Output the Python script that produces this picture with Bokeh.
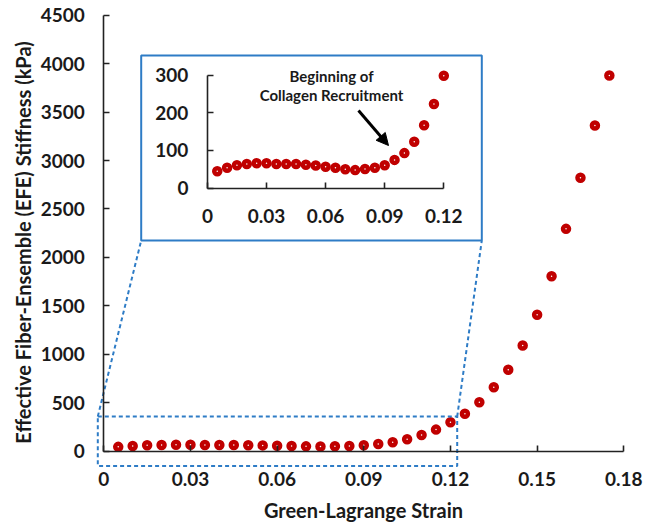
import math
from bokeh.plotting import figure
from bokeh.models import (Range1d, LinearAxis, FixedTicker, Arrow, NormalHead,
                          ColumnDataSource)
from bokeh.embed import file_html
from bokeh.resources import INLINE
from bokeh.core.properties import value

# ---------------- data ----------------
strain = [0.005, 0.010, 0.015, 0.020, 0.025, 0.030, 0.035, 0.040, 0.045, 0.050,
          0.055, 0.060, 0.065, 0.070, 0.075, 0.080, 0.085, 0.090, 0.095, 0.100,
          0.105, 0.110, 0.115, 0.120, 0.125, 0.130, 0.135, 0.140, 0.145, 0.150,
          0.155, 0.160, 0.165, 0.170, 0.175]
stiffness = [45, 54, 61, 64, 66, 66, 64, 64, 64, 62,
             60, 57, 54, 50, 48, 51, 54, 61, 75, 93,
             123, 167, 223, 298, 386, 506, 660, 840, 1091, 1408,
             1806, 2295, 2822, 3362, 3878]
inset_strain = strain[:24]
inset_stiffness = stiffness[:24]

x_ticks = [0, 0.03, 0.06, 0.09, 0.12, 0.15, 0.18]
x_tick_labels = ["0", "0.03", "0.06", "0.09", "0.12", "0.15", "0.18"]
y_ticks = [0, 500, 1000, 1500, 2000, 2500, 3000, 3500, 4000, 4500]
inset_x_ticks = [0, 0.03, 0.06, 0.09, 0.12]
inset_x_tick_labels = ["0", "0.03", "0.06", "0.09", "0.12"]
inset_y_ticks = [0, 100, 200, 300]

x_title = "Green-Lagrange Strain"
y_title = "Effective Fiber-Ensemble (EFE) Stiffness (kPa)"
note_lines = ["Beginning of", "Collagen Recruitment"]

# ---------------- layout (pixels) ----------------
W, H = 646, 525
# main axes pixel anchors
MX0, MX1, MXV = 103.3, 623.3, 0.18     # x=0 px, x=MXV px
MY0, MY1, MYV = 450.7, 14.7, 4500      # y=0 px, y=MYV px
# inset axes pixel anchors
IX0, IX1, IXV = 206.9, 443.3, 0.12
IY0, IY1, IYV = 187.7, 74.5, 300

def mx(px): return (px - MX0) * MXV / (MX1 - MX0)
def my(py): return (MY0 - py) * MYV / (MY0 - MY1)
def ix(px): return (px - IX0) * IXV / (IX1 - IX0)
def iy(py): return (IY0 - py) * IYV / (IY0 - IY1)

BLUE = "#2E7CC6"
RED = "#C00000"
AX = "#222222"
TXT = "#1a1a1a"
FONT = "Lato"

p = figure(width=W, height=H,
           x_range=Range1d(mx(0), mx(W)), y_range=Range1d(my(H), my(0)),
           output_backend="svg", toolbar_location=None,
           min_border=0, min_border_left=0, min_border_right=0,
           min_border_top=0, min_border_bottom=0)
p.xgrid.visible = False
p.ygrid.visible = False
p.outline_line_color = None
p.background_fill_color = "white"
p.border_fill_color = "white"

p.extra_x_ranges = {"ix": Range1d(ix(0), ix(W))}
p.extra_y_ranges = {"iy": Range1d(iy(H), iy(0))}


def style_axis(ax, standoff):
    ax.axis_line_color = AX
    ax.axis_line_width = 1.6
    ax.major_tick_line_color = AX
    ax.major_tick_line_width = 1.6
    ax.major_tick_in = 6
    ax.major_tick_out = 0
    ax.minor_tick_line_color = None
    ax.major_label_text_font = FONT
    ax.major_label_text_font_style = "bold"
    ax.major_label_text_font_size = "19px"
    ax.major_label_text_color = TXT
    ax.major_label_standoff = standoff


xa = p.xaxis[0]
ya = p.yaxis[0]
xa.ticker = FixedTicker(ticks=x_ticks)
xa.major_label_overrides = dict(zip(x_ticks, x_tick_labels))
xa.bounds = (0, 0.18)
xa.fixed_location = 0
ya.ticker = FixedTicker(ticks=y_ticks)
ya.bounds = (0, 4500)
ya.fixed_location = 0
style_axis(xa, 21)
style_axis(ya, 19)
xa.axis_label = x_title
xa.axis_label_text_font = FONT
xa.axis_label_text_font_style = "bold"
xa.axis_label_text_font_size = "20px"
xa.axis_label_text_color = TXT
xa.axis_label_standoff = 8

# y-axis title (placed to match the reference position)
p.text(x=[mx(22)], y=[my(242)], text=[y_title], angle=math.pi / 2,
       text_font=value(FONT), text_font_style="bold", text_font_size="20px",
       text_color=TXT, text_align="center", text_baseline="middle")

# main data
src = ColumnDataSource(dict(x=strain, y=stiffness))
p.scatter("x", "y", source=src, size=6, fill_color="white",
          line_color=RED, line_width=4.5)

# zoom rectangle + connectors (dashed)
zl, zr, zt, zb = 97.3, 456.7, 416.0, 465.5
bl, br, bt, bb = 140.7, 481.3, 55.0, 240.0
p.quad(left=[mx(zl)], right=[mx(zr)], top=[my(zt)], bottom=[my(zb)],
       fill_color=None, line_color=BLUE, line_width=2, line_dash="4 3")
p.segment(x0=[mx(zl), mx(zr)], y0=[my(zt), my(zt)],
          x1=[mx(bl), mx(br)], y1=[my(bb), my(bb)],
          line_color=BLUE, line_width=2, line_dash="4 3")

# inset box
p.quad(left=[ix(bl)], right=[ix(br)], top=[iy(bt)], bottom=[iy(bb)],
       fill_color="white", line_color=BLUE, line_width=2,
       x_range_name="ix", y_range_name="iy")

# inset axes
iax = LinearAxis(x_range_name="ix", y_range_name="iy",
                 ticker=FixedTicker(ticks=inset_x_ticks), bounds=(0, 0.12),
                 fixed_location=0)
iax.major_label_overrides = dict(zip(inset_x_ticks, inset_x_tick_labels))
style_axis(iax, 21)
p.add_layout(iax, "below")
iay = LinearAxis(x_range_name="ix", y_range_name="iy",
                 ticker=FixedTicker(ticks=inset_y_ticks), bounds=(0, 300),
                 fixed_location=0)
style_axis(iay, 19)
p.add_layout(iay, "left")

isrc = ColumnDataSource(dict(x=inset_strain, y=inset_stiffness))
p.scatter("x", "y", source=isrc, size=6, fill_color="white",
          line_color=RED, line_width=4.5, x_range_name="ix", y_range_name="iy")

# annotation
p.text(x=[ix(331), ix(331)], y=[iy(75), iy(94)], text=note_lines,
       text_font=value(FONT), text_font_style="bold", text_font_size="15px",
       text_color=TXT, text_align="center", text_baseline="middle",
       x_range_name="ix", y_range_name="iy")
p.add_layout(Arrow(end=NormalHead(size=12, fill_color="black", line_color="black"),
                   x_start=ix(358), y_start=iy(110), x_end=ix(388), y_end=iy(145),
                   line_color="black", line_width=3,
                   x_range_name="ix", y_range_name="iy"))

open("out.html", "w").write(file_html(p, INLINE))
